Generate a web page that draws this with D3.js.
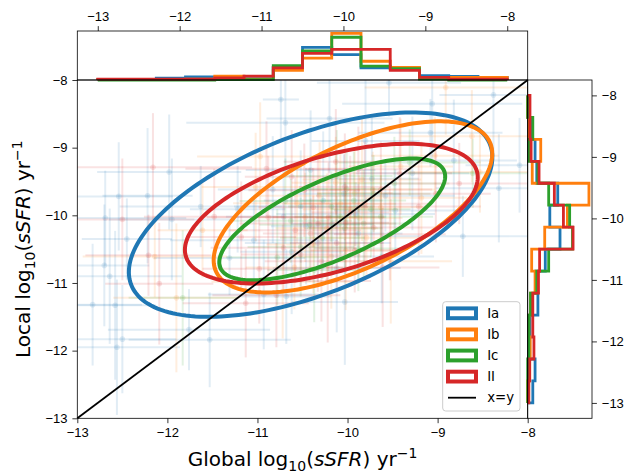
<!DOCTYPE html>
<html>
<meta charset="utf-8">

<head>
    <style>
        body { margin: 0; background: #fff; }
        svg { font-family: "DejaVu Sans", sans-serif; }
        .axis text { font-size: 13px; fill: #000; }
        .axis line { stroke: #000; stroke-width: 0.8; }
        .axis .domain { display: none; }
    </style>
</head>

<body>
    <script src="https://d3js.org/d3.v7.min.js"></script>

    <script>
        // groups and colours
        const groups = ["Ia", "Ib", "Ic", "II"];
        const colors = ["#1f77b4", "#ff7f0e", "#2ca02c", "#d62728"];

        // points: [global, local, err global, err local]
        const ptsIa = [
            [-10.74, -8.29, 0.20, 0.60], [-10.69, -8.63, 1.10, 0.70], [-11.98, -9.36, 0.80, 0.85],
            [-12.54, -9.72, 0.60, 0.80], [-12.22, -9.71, 0.50, 1.00], [-11.63, -9.87, 0.90, 0.60],
            [-12.69, -10.04, 0.90, 0.70], [-11.95, -10.06, 0.70, 0.90], [-12.45, -10.35, 0.50, 0.60],
            [-12.70, -10.74, 0.50, 0.90], [-12.64, -10.90, 0.80, 1.00], [-12.83, -11.32, 0.55, 0.90],
            [-12.58, -11.33, 0.45, 1.10], [-11.76, -11.69, 0.90, 0.60], [-12.50, -11.83, 0.60, 0.80],
            [-12.56, -11.95, 0.70, 1.00], [-11.53, -11.84, 0.90, 0.70], [-9.54, -8.04, 0.80, 0.50],
            [-8.38, -8.22, 0.60, 0.90], [-9.06, -8.35, 1.00, 0.90], [-9.08, -8.78, 0.80, 0.50],
            [-10.20, -8.57, 0.70, 0.80], [-8.82, -9.19, 0.70, 0.90], [-8.09, -9.26, 0.60, 0.70],
            [-8.72, -10.31, 0.90, 0.60], [-8.32, -9.60, 0.70, 0.80], [-9.80, -8.90, 0.60, 0.90],
            [-10.52, -9.87, 0.74, 0.83], [-10.17, -10.13, 0.46, 0.72], [-10.04, -9.68, 0.63, 0.58],
            [-9.73, -9.46, 0.52, 0.94], [-10.33, -10.41, 0.81, 0.57], [-10.62, -10.54, 0.57, 0.92],
            [-11.04, -10.37, 0.93, 0.66], [-9.47, -9.93, 0.68, 0.61], [-10.83, -9.62, 0.61, 0.79],
            [-9.28, -9.38, 0.63, 0.84], [-10.12, -10.78, 0.71, 0.95], [-11.31, -10.63, 0.84, 0.55],
            [-9.88, -10.27, 0.49, 0.73], [-10.93, -11.17, 0.62, 0.81], [-10.41, -9.33, 0.72, 0.88],
            [-9.62, -10.61, 0.58, 0.69], [-11.22, -9.91, 0.53, 0.64], [-10.03, -11.28, 0.59, 0.93],
            [-10.68, -11.20, 0.50, 0.70], [-10.27, -9.78, 0.66, 1.02], [-9.91, -9.98, 0.88, 0.47],
            [-10.46, -10.16, 0.39, 0.86], [-9.58, -9.71, 0.77, 0.53], [-10.71, -10.02, 0.64, 0.74]
        ];
        const ptsIb = [
            [-10.97, -9.13, 0.70, 0.80], [-12.14, -10.61, 0.80, 0.60], [-11.90, -11.22, 0.70, 1.10],
            [-8.91, -8.11, 0.90, 0.70], [-8.53, -9.36, 0.80, 0.60], [-11.02, -9.58, 0.60, 0.80],
            [-11.61, -10.22, 0.50, 0.70], [-10.08, -9.83, 0.62, 0.74], [-9.87, -10.04, 0.48, 0.63],
            [-10.23, -10.19, 0.57, 0.81], [-9.72, -9.62, 0.69, 0.56], [-10.38, -10.43, 0.52, 0.72],
            [-10.02, -10.52, 0.61, 0.88], [-9.63, -9.88, 0.47, 0.64], [-10.31, -9.71, 0.73, 0.79],
            [-9.41, -9.28, 0.58, 0.71], [-10.59, -10.77, 0.54, 0.62], [-9.79, -10.33, 0.63, 0.59],
            [-10.13, -9.52, 0.49, 0.68], [-9.18, -9.74, 0.62, 0.83], [-10.47, -10.03, 0.58, 0.66],
            [-10.72, -10.98, 0.79, 0.84], [-9.03, -9.12, 0.71, 0.57], [-9.97, -9.91, 0.53, 0.52],
            [-9.92, -9.67, 0.42, 0.63], [-9.52, -10.68, 0.68, 0.92], [-8.62, -8.83, 0.79, 0.68],
            [-10.18, -10.61, 0.44, 0.77], [-9.84, -9.47, 0.66, 0.91], [-10.56, -9.82, 0.71, 0.59]
        ];
        const ptsIc = [
            [-11.83, -11.22, 0.60, 1.00], [-10.08, -10.02, 0.51, 0.63], [-9.93, -9.78, 0.58, 0.72],
            [-10.28, -10.33, 0.47, 0.61], [-10.03, -10.19, 0.42, 0.68], [-9.71, -9.68, 0.63, 0.57],
            [-10.52, -10.47, 0.59, 0.73], [-10.18, -9.87, 0.48, 0.52], [-9.82, -10.12, 0.53, 0.79],
            [-10.63, -10.08, 0.68, 0.62], [-9.48, -9.53, 0.61, 0.69], [-10.37, -10.81, 0.52, 0.77],
            [-10.01, -9.61, 0.43, 0.58], [-9.31, -9.22, 0.79, 0.49], [-10.78, -10.62, 0.57, 0.71],
            [-9.88, -10.49, 0.49, 0.63], [-10.12, -9.42, 0.62, 0.68], [-9.63, -10.02, 0.58, 0.61],
            [-10.69, -9.79, 0.51, 0.63], [-8.61, -9.38, 0.72, 0.51], [-10.42, -10.14, 0.56, 0.84],
            [-9.74, -9.91, 0.44, 0.71]
        ];
        const ptsII = [
            [-12.16, -9.29, 1.10, 0.80], [-10.90, -9.31, 0.90, 0.70], [-12.50, -10.06, 0.80, 0.90],
            [-12.21, -10.59, 0.70, 0.60], [-12.09, -11.01, 0.60, 0.90], [-11.13, -11.30, 0.70, 0.80],
            [-8.76, -9.53, 0.80, 0.60], [-10.21, -10.03, 0.62, 0.81], [-10.02, -10.11, 0.48, 0.73],
            [-10.38, -9.88, 0.61, 0.58], [-9.81, -9.83, 0.71, 0.92], [-10.12, -10.41, 0.52, 0.69],
            [-10.58, -10.22, 0.73, 0.78], [-9.63, -9.62, 0.57, 0.71], [-10.29, -10.68, 0.63, 0.89],
            [-9.92, -10.52, 0.49, 0.62], [-10.71, -10.48, 0.81, 0.67], [-9.42, -9.38, 0.58, 0.83],
            [-10.48, -9.63, 0.62, 0.69], [-9.71, -10.18, 0.72, 0.58], [-10.88, -10.03, 0.68, 0.91],
            [-10.03, -9.58, 0.51, 0.79], [-9.21, -9.87, 0.69, 0.72], [-11.18, -10.32, 0.61, 0.82],
            [-10.22, -10.97, 0.48, 0.91], [-9.53, -10.28, 0.62, 0.68], [-10.79, -11.18, 0.71, 0.77],
            [-9.88, -9.32, 0.59, 0.63], [-11.48, -10.02, 0.78, 0.71], [-10.41, -10.27, 0.53, 0.52],
            [-9.02, -9.68, 0.61, 0.72], [-10.98, -10.79, 0.63, 0.81], [-10.13, -9.21, 0.58, 0.78],
            [-9.61, -10.77, 0.63, 0.88], [-10.62, -9.43, 0.52, 0.69], [-10.33, -10.12, 0.87, 1.01],
            [-9.97, -9.96, 0.43, 0.84], [-10.52, -10.58, 0.66, 0.47]
        ];

        // ellipses: centre, full width/height (data units), angle in degrees
        const ellCx = [-10.41, -9.94, -10.17, -10.18];
        const ellCy = [-9.99, -9.875, -10.06, -9.975];
        const ellW = [4.52, 3.62, 2.88, 3.48];
        const ellH = [2.23, 1.69, 1.11, 1.65];
        const ellAngle = [31.2, 36.0, 32.2, 23.9];

        // histograms (density), 14 bins from -13 to -8
        const topIa = [0.01, 0.01, 0.04, 0.07, 0.06, 0.03, 0.29, 0.75, 0.58, 0.28, 0.28, 0.10, 0.08, 0.06];
        const topIb = [0.01, 0.01, 0.01, 0.02, 0.09, 0.02, 0.22, 0.50, 1.07, 0.43, 0.29, 0.05, 0.06, 0.06];
        const topIc = [0, 0, 0, 0, 0.01, 0.01, 0.33, 0.67, 0.98, 0.32, 0.26, 0.02, 0, 0];
        const topII = [0.02, 0.02, 0.02, 0.02, 0.05, 0.09, 0.28, 0.61, 0.70, 0.70, 0.22, 0.06, 0.02, 0.02];

        const rightIa = [0.09, 0.13, 0.02, 0.04, 0.18, 0.14, 0.31, 0.57, 0.39, 0.53, 0.16, 0.13, 0.07, 0];
        const rightIb = [0, 0.035, 0.045, 0.02, 0.05, 0.13, 0.07, 0.30, 0.70, 1.08, 0.08, 0.23, 0.02, 0];
        const rightIc = [0, 0, 0.02, 0.02, 0.05, 0.16, 0.37, 0.79, 0.74, 0.37, 0.18, 0.02, 0.09, 0];
        const rightII = [0.02, 0.035, 0.11, 0.09, 0.09, 0.19, 0.21, 0.80, 0.63, 0.47, 0.20, 0.06, 0.04, 0.04];

        const ticks = [-13, -12, -11, -10, -9, -8];
        const binEdges = d3.range(15).map(i => -13 + i * 5 / 14);

        const pts = [ptsIa, ptsIb, ptsIc, ptsII];
        const topH = [topIa, topIb, topIc, topII];
        const rightH = [rightIa, rightIb, rightIc, rightII];

        // panel boxes
        const L = 77.3, R = 527.7, T = 80, B = 418.3;
        const topT = 31, rightR = 592;

        const svg = d3.select("body").append("svg")
            .attr("width", 630).attr("height", 475);

        // main scales
        const x = d3.scaleLinear().domain([-13, -8]).range([L, R]);
        const y = d3.scaleLinear().domain([-13, -8]).range([B, T]);

        // histogram scales (matplotlib 5% margins)
        const xt = d3.scaleLinear().domain([-13.25, -7.75]).range([L, R]);
        const maxTop = d3.max(topH, d => d3.max(d));
        const yt = d3.scaleLinear().domain([0, maxTop * 1.05]).range([T, topT]);
        const yr = d3.scaleLinear().domain([-13.25, -7.75]).range([B, T]);
        const maxRight = d3.max(rightH, d => d3.max(d));
        const xr = d3.scaleLinear().domain([0, maxRight * 1.05]).range([R, rightR]);

        const fmt = d3.format("d");

        svg.append("clipPath").attr("id", "clipMain")
            .append("rect").attr("x", L).attr("y", T).attr("width", R - L).attr("height", B - T);

        // scatter with error bars
        const gPts = svg.append("g").attr("clip-path", "url(#clipMain)");
        pts.forEach(function (arr, k) {
            const g = gPts.append("g");
            arr.forEach(function (p) {
                g.append("line")
                    .attr("x1", x(p[0] - p[2])).attr("x2", x(p[0] + p[2]))
                    .attr("y1", y(p[1])).attr("y2", y(p[1]))
                    .attr("stroke", colors[k]).attr("stroke-width", 2).attr("opacity", 0.13);
                g.append("line")
                    .attr("x1", x(p[0])).attr("x2", x(p[0]))
                    .attr("y1", y(p[1] - p[3])).attr("y2", y(p[1] + p[3]))
                    .attr("stroke", colors[k]).attr("stroke-width", 2).attr("opacity", 0.13);
                g.append("circle")
                    .attr("cx", x(p[0])).attr("cy", y(p[1])).attr("r", 2.8)
                    .attr("fill", colors[k]).attr("opacity", 0.13);
            });
        });

        // ellipses
        const ellLine = d3.line().x(d => x(d[0])).y(d => y(d[1])).curve(d3.curveLinearClosed);
        groups.forEach(function (gname, k) {
            const a = ellW[k] / 2, b = ellH[k] / 2, th = ellAngle[k] * Math.PI / 180;
            const path = d3.range(0, 360, 2).map(function (deg) {
                const t = deg * Math.PI / 180;
                const u = a * Math.cos(t), v = b * Math.sin(t);
                return [ellCx[k] + u * Math.cos(th) - v * Math.sin(th),
                        ellCy[k] + u * Math.sin(th) + v * Math.cos(th)];
            });
            svg.append("path")
                .attr("clip-path", "url(#clipMain)")
                .attr("d", ellLine(path))
                .attr("fill", "none")
                .attr("stroke", colors[k])
                .attr("stroke-width", 4);
        });

        // x = y line
        svg.append("line")
            .attr("x1", x(-13)).attr("y1", y(-13))
            .attr("x2", x(-8)).attr("y2", y(-8))
            .attr("stroke", "#000").attr("stroke-width", 1.8);

        // top histogram
        const stepTop = d3.line().x(d => xt(d[0])).y(d => yt(d[1]));
        topH.forEach(function (h, k) {
            const pp = [[binEdges[0], 0]];
            h.forEach(function (v, i) { pp.push([binEdges[i], v], [binEdges[i + 1], v]); });
            pp.push([binEdges[14], 0]);
            svg.append("path").attr("d", stepTop(pp))
                .attr("fill", "none").attr("stroke", colors[k]).attr("stroke-width", 2.8);
        });

        // right histogram
        const stepRight = d3.line().x(d => xr(d[1])).y(d => yr(d[0]));
        rightH.forEach(function (h, k) {
            const pp = [[binEdges[0], 0]];
            h.forEach(function (v, i) { pp.push([binEdges[i], v], [binEdges[i + 1], v]); });
            pp.push([binEdges[14], 0]);
            svg.append("path").attr("d", stepRight(pp))
                .attr("fill", "none").attr("stroke", colors[k]).attr("stroke-width", 2.8);
        });

        // frames
        [[L, T, R - L, B - T], [L, topT, R - L, T - topT], [R, T, rightR - R, B - T]].forEach(function (r) {
            svg.append("rect")
                .attr("x", r[0]).attr("y", r[1]).attr("width", r[2]).attr("height", r[3])
                .attr("fill", "none").attr("stroke", "#000").attr("stroke-width", 0.8);
        });

        // axes
        svg.append("g").attr("class", "axis")
            .attr("transform", "translate(0," + B + ")")
            .call(d3.axisBottom(x).tickValues(ticks).tickFormat(fmt).tickSize(4.9).tickPadding(4.9));
        svg.append("g").attr("class", "axis")
            .attr("transform", "translate(" + L + ",0)")
            .call(d3.axisLeft(y).tickValues(ticks).tickFormat(fmt).tickSize(4.9).tickPadding(4.9));
        svg.append("g").attr("class", "axis")
            .attr("transform", "translate(0," + topT + ")")
            .call(d3.axisTop(xt).tickValues(ticks).tickFormat(fmt).tickSize(4.9).tickPadding(4.9));
        svg.append("g").attr("class", "axis")
            .attr("transform", "translate(" + rightR + ",0)")
            .call(d3.axisRight(yr).tickValues(ticks).tickFormat(fmt).tickSize(4.9).tickPadding(4.9));

        // axis labels
        function logLabel(sel, prefix) {
            sel.append("tspan").text(prefix + " log");
            sel.append("tspan").attr("font-size", 14).attr("dy", 5).text("10");
            sel.append("tspan").attr("dy", -5).text("(");
            sel.append("tspan").attr("font-style", "italic").text("sSFR");
            sel.append("tspan").text(") yr");
            sel.append("tspan").attr("font-size", 14).attr("dy", -8).text("\u22121");
        }
        const xl = svg.append("text")
            .attr("x", (L + R) / 2).attr("y", 466)
            .attr("text-anchor", "middle").attr("font-size", 20);
        logLabel(xl, "Global");
        const yl = svg.append("text")
            .attr("transform", "translate(30," + (T + B) / 2 + ") rotate(-90)")
            .attr("text-anchor", "middle").attr("font-size", 20);
        logLabel(yl, "Local");

        // legend
        const lg = svg.append("g").attr("transform", "translate(442.7,301.7)");
        lg.append("rect").attr("width", 77.3).attr("height", 109.3).attr("rx", 3)
            .attr("fill", "#fff").attr("fill-opacity", 0.8)
            .attr("stroke", "#ccc").attr("stroke-width", 1);
        const rowY = d3.range(5).map(i => 11.6 + i * 21.1);
        groups.forEach(function (gname, k) {
            lg.append("rect")
                .attr("x", 5.3).attr("y", rowY[k] - 4.9).attr("width", 28).attr("height", 9.8)
                .attr("fill", "none").attr("stroke", colors[k]).attr("stroke-width", 4);
            lg.append("text").attr("x", 44.5).attr("y", rowY[k]).attr("dy", "0.35em")
                .attr("font-size", 13.3).text(gname);
        });
        lg.append("line").attr("x1", 5.3).attr("x2", 33.3).attr("y1", rowY[4]).attr("y2", rowY[4])
            .attr("stroke", "#000").attr("stroke-width", 1.8);
        lg.append("text").attr("x", 44.5).attr("y", rowY[4]).attr("dy", "0.35em")
            .attr("font-size", 13.3).text("x=y");
    </script>

</body>

</html>
